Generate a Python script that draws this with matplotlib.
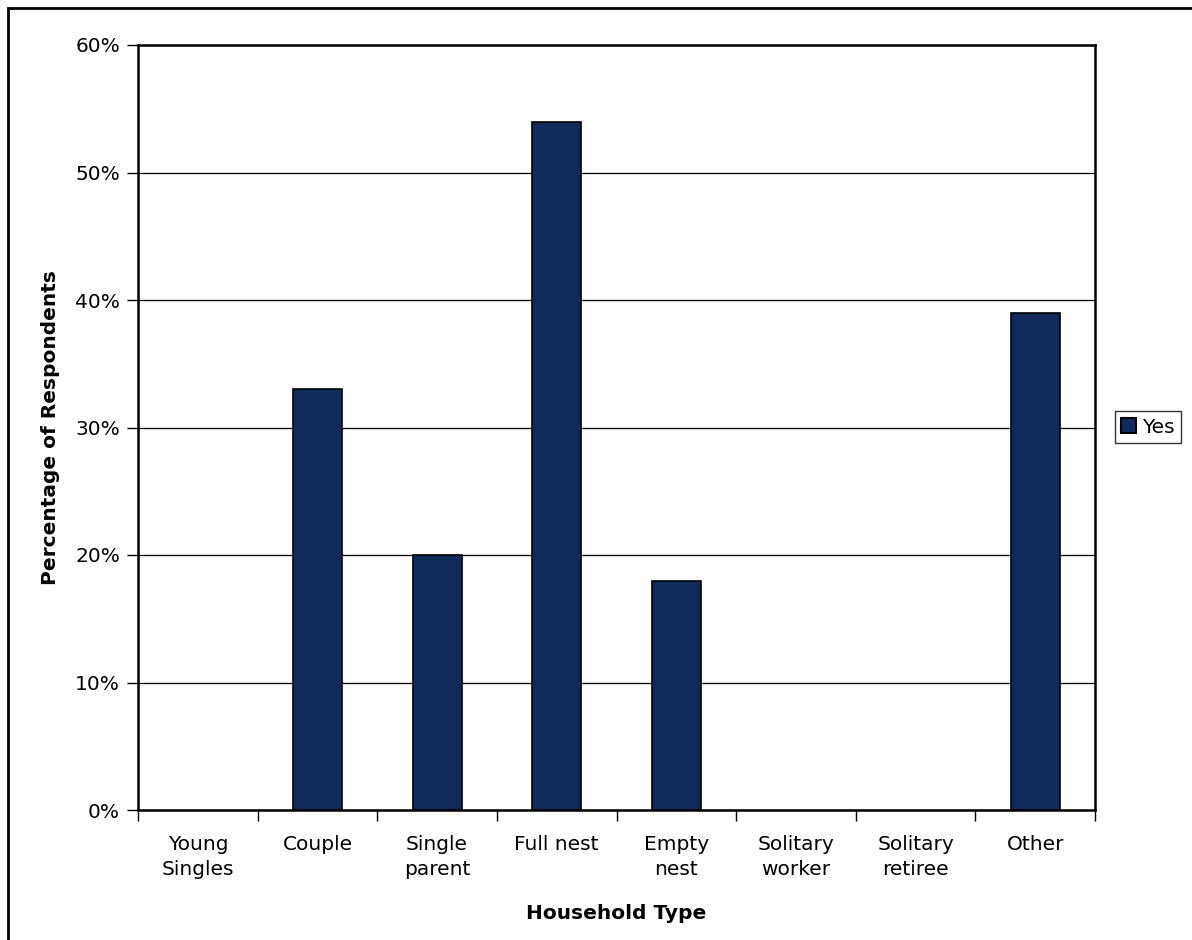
import matplotlib.pyplot as plt
from matplotlib.patches import Rectangle, Patch
from matplotlib.ticker import FuncFormatter, MultipleLocator

categories = ["Young\nSingles", "Couple", "Single\nparent", "Full nest", "Empty\nnest",
              "Solitary\nworker", "Solitary\nretiree", "Other"]
yes_values = [0, 33, 20, 54, 18, 0, 0, 39]

bar_color = "#112a5c"

fig = plt.figure(figsize=(11.92, 9.4), dpi=100)
ax = fig.add_axes([138 / 1192, 1 - 810 / 940, 957 / 1192, 765 / 940])

x = list(range(len(categories)))
# no outline on empty categories
edge_widths = [1.2 if v > 0 else 0 for v in yes_values]
ax.bar(x, yes_values, width=0.41, color=bar_color, edgecolor="black", linewidth=edge_widths,
       zorder=2)

ax.set_xlim(-0.5, len(categories) - 0.5)
ax.set_ylim(0, 60)
ax.yaxis.set_major_locator(MultipleLocator(10))
ax.yaxis.set_major_formatter(FuncFormatter(lambda v, p: "{:.0f}%".format(v)))
ax.set_axisbelow(True)
ax.grid(axis="y", color="black", linewidth=0.9)

# category labels sit between tick marks at the boundaries
ax.set_xticks([i - 0.5 for i in range(len(categories) + 1)])
ax.set_xticklabels([])
ax.set_xticks(x, minor=True)
ax.set_xticklabels(categories, minor=True, fontsize=14.5, linespacing=1.4)
ax.tick_params(axis="x", which="minor", length=0, pad=18)
ax.tick_params(axis="x", which="major", length=8, width=1, direction="out")
ax.tick_params(axis="y", length=8, width=1, direction="out", labelsize=14.5, pad=5)

for s in ax.spines.values():
    s.set_linewidth(1.8)
    s.set_color("black")

ax.set_xlabel("Household Type", fontsize=14.5, fontweight="bold", labelpad=18)
ax.set_ylabel("Percentage of Respondents", fontsize=14.5, fontweight="bold", labelpad=11)

handle = Patch(facecolor=bar_color, edgecolor="black", linewidth=1.5, label="Yes")
leg = fig.legend(handles=[handle], loc="center left", bbox_to_anchor=(1115 / 1192, 1 - 427 / 940),
                 fontsize=14.5, frameon=True, fancybox=False, handlelength=0.75, handleheight=0.75,
                 handletextpad=0.3, borderpad=0.3, borderaxespad=0)
leg.get_frame().set_edgecolor("black")
leg.get_frame().set_linewidth(1)

# outer chart frame
fig.patches.append(Rectangle((8 / 1192, -0.05), 1.2, 1 - 8 / 940 + 0.05, transform=fig.transFigure,
                             fill=False, edgecolor="black", linewidth=2))

fig.savefig("out.png", dpi=100)
